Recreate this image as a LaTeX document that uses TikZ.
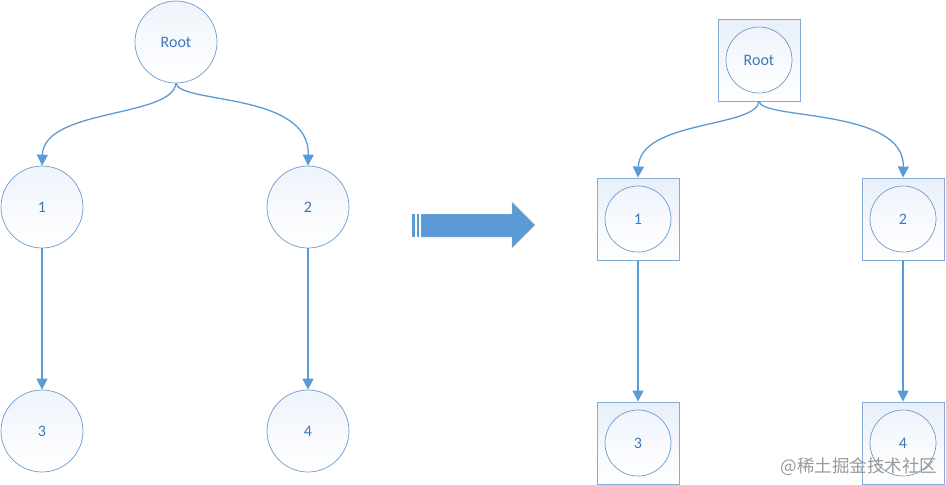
\documentclass[tikz,border=0pt]{standalone}
\usepackage{fontspec}
\setmainfont{Carlito}
\newfontfamily\cjk{Noto Sans CJK SC}
\usetikzlibrary{arrows.meta}
\definecolor{lineblue}{HTML}{5B9BD5}
\definecolor{edgeblue}{HTML}{6E9BCF}
\definecolor{textblue}{HTML}{3F78B8}
\definecolor{paleblue}{HTML}{E8EFF9}
\tikzset{
  ball/.style={circle, draw=edgeblue, line width=0.7pt, minimum size=82pt, inner sep=0pt,
    top color=paleblue!70, bottom color=white, text=textblue, font=\fontsize{16}{18}\selectfont},
  smallball/.style={ball, minimum size=66pt},
  box/.style={rectangle, draw=edgeblue!85, line width=0.9pt, minimum size=82pt, inner sep=0pt,
    top color=paleblue, bottom color=white},
  link/.style={draw=lineblue, line width=1.3pt, -{Triangle[length=11pt,width=11pt]}},
}
\begin{document}
\begin{tikzpicture}[x=1pt,y=-1pt]
\useasboundingbox (0,0) rectangle (946,485);
% before
\node[ball] (root) at (176,42) {Root};
\node[ball] (a) at (42,207) {1};
\node[ball] (b) at (308,207) {2};
\node[ball] (c) at (42,431) {3};
\node[ball] (d) at (308,431) {4};
\draw[link] (root.south) .. controls (172,118) and (44,108) .. (a.north);
\draw[link] (root.south) .. controls (180,104) and (310,92) .. (b.north);
\draw[link] (a) -- (c);
\draw[link] (b) -- (d);
% arrow in the middle
\fill[lineblue] (412,214) rectangle (414.5,237);
\fill[lineblue] (416.5,214) rectangle (419,237);
\draw[black!25, line width=0.4pt, fill=lineblue] (421,214) -- (512,214) -- (512,202) -- (535,225)
  -- (512,248) -- (512,237) -- (421,237) -- cycle;
% after
\node[box] (rootbox) at (759,60) {};
\node[smallball] (root2) at (759,60) {Root};
\node[box] (abox) at (638,219) {};
\node[smallball] (a2) at (638,219) {1};
\node[box] (bbox) at (903,219) {};
\node[smallball] (b2) at (903,219) {2};
\node[box] (cbox) at (638,443) {};
\node[smallball] (c2) at (638,443) {3};
\node[box] (dbox) at (903,443) {};
\node[smallball] (d2) at (903,443) {4};
\draw[link] (rootbox.south) .. controls (756,128) and (640,120) .. (abox.north);
\draw[link] (rootbox.south) .. controls (762,120) and (905,108) .. (bbox.north);
\draw[link] (abox) -- (cbox);
\draw[link] (bbox) -- (dbox);
\node[anchor=east, text=black!40, font=\cjk\fontsize{17.5}{20}\selectfont] (mark) at (941,467) {@稀土掘金技术社区};
\end{tikzpicture}
\end{document}
